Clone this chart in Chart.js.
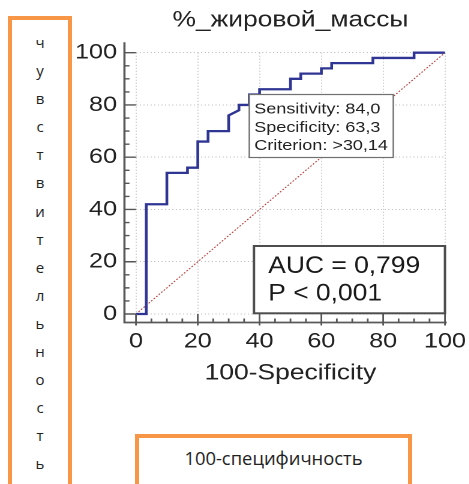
<!DOCTYPE html>
<html>
<head>
<meta charset="utf-8">
<script src="https://cdn.jsdelivr.net/npm/chart.js@4.4.1/dist/chart.umd.min.js"></script>
<style>
  html, body { margin: 0; padding: 0; background: #fff; }
  body { width: 469px; height: 484px; position: relative; overflow: hidden; }
  /* the source figure is stretched sideways, so the plot is drawn narrow and scaled */
  #plotWrap { position: absolute; left: 0; top: 0; width: 391px; height: 484px; transform: scaleX(1.2); transform-origin: 0 0; }
  .frame { position: absolute; border: 4px solid #f79646; background: #fff; box-sizing: border-box; }
  #sideFrame { left: 8px; top: 16px; width: 64px; height: 500px; }
  #bottomFrame { left: 135px; top: 434px; width: 277px; height: 80px; }
  #sideText { position: absolute; left: 8px; width: 64px; top: 28px; text-align: center; font: 15px "Open Sans", sans-serif; line-height: 28.1px; color: #222; }
  #bottomText { position: absolute; left: 135px; width: 277px; top: 446px; text-align: center; font: 18.4px "Open Sans", sans-serif; line-height: 23px; color: #222; }
</style>
</head>
<body>
<div id="plotWrap"><canvas id="rocChart" width="391" height="484"></canvas></div>
<div class="frame" id="sideFrame"></div>
<div id="sideText"></div>
<div class="frame" id="bottomFrame"></div>
<div id="bottomText"></div>
<script>
  var chartTitle = '%_жировой_массы';
  var xTitle = '100-Specificity';
  var sideLabel = 'чувствительность';
  var bottomLabel = '100-специфичность';

  // ROC curve vertices: 100-specificity (x) and sensitivity (y)
  var fpr = [0, 3.33, 3.33, 10, 10, 16.67, 16.67, 20, 20, 23.33, 23.33, 30, 30, 33.33, 33.33, 36.67,
    36.67, 40, 40, 50, 50, 53.33, 53.33, 60, 60, 63.33, 63.33, 76.67, 76.67, 90, 90, 100];
  var tpr = [0, 0, 42, 42, 54, 54, 56, 56, 66, 66, 70, 70, 76, 78, 80, 80,
    84, 84, 86, 86, 90, 90, 92, 92, 94, 94, 96, 96, 98, 98, 100, 100];
  var refX = [0, 100];
  var refY = [0, 100];
  var tickLabels = [0, 20, 40, 60, 80, 100];

  var criterionFpr = 36.67;
  var criterionTpr = 84;
  var infoLines = ['Sensitivity: 84,0', 'Specificity: 63,3', 'Criterion: >30,14'];
  var aucLines = ['AUC = 0,799', 'P < 0,001'];

  var FONT = "'Liberation Sans', Arial, sans-serif";
  var SX = 1.2;

  document.getElementById('sideText').innerHTML = sideLabel.split('').join('<br>');
  document.getElementById('bottomText').textContent = bottomLabel;

  function points(xs, ys) {
    return xs.map(function (x, i) { return { x: x, y: ys[i] }; });
  }

  var axesAndBoxes = {
    id: 'axesAndBoxes',
    afterDatasetsDraw: function (chart) {
      var ctx = chart.ctx;
      var xs = chart.scales.x;
      var ys = chart.scales.y;
      var area = chart.chartArea;
      var axisX = area.left - 9.6;
      var axisY = area.bottom + 8.5;
      var minMax = [tickLabels[0], tickLabels[tickLabels.length - 1]];

      ctx.save();
      // detached axis lines
      ctx.strokeStyle = '#5a5a5a';
      ctx.lineWidth = 1.8;
      ctx.beginPath();
      ctx.moveTo(axisX, ys.getPixelForValue(minMax[1]) - 10.5);
      ctx.lineTo(axisX, axisY);
      ctx.lineTo(xs.getPixelForValue(minMax[1]) + 1.5, axisY);
      ctx.stroke();

      // major and minor ticks pointing in toward the plot
      ctx.strokeStyle = '#555';
      ctx.lineWidth = 1.4;
      ctx.beginPath();
      for (var v = minMax[0]; v <= minMax[1]; v += 5) {
        var major = tickLabels.indexOf(v) >= 0;
        var py = ys.getPixelForValue(v);
        ctx.moveTo(axisX, py);
        ctx.lineTo(major ? area.left : axisX + 4.2, py);
        var px = xs.getPixelForValue(v);
        ctx.moveTo(px, major ? axisY + 3 : axisY);
        ctx.lineTo(px, major ? area.bottom : axisY - 4);
      }
      ctx.stroke();

      // criterion info box, anchored at the operating point
      var bx = xs.getPixelForValue(criterionFpr);
      var by = ys.getPixelForValue(criterionTpr);
      ctx.fillStyle = '#fff';
      ctx.fillRect(bx, by, 120, 63);
      ctx.strokeStyle = '#707070';
      ctx.lineWidth = 1.2;
      ctx.strokeRect(bx, by, 120, 63);
      ctx.fillStyle = '#222';
      ctx.font = '15px ' + FONT;
      ctx.textBaseline = 'alphabetic';
      ctx.textAlign = 'left';
      infoLines.forEach(function (t, i) {
        ctx.fillText(t, bx + 4.2, by + 19 + i * 18.35);
      });

      // AUC box in the lower right corner
      var right = xs.getPixelForValue(minMax[1]);
      var bottom = ys.getPixelForValue(minMax[0]) - 0.7;
      var w = 191 / SX, h = 67.3;
      ctx.fillStyle = '#fff';
      ctx.fillRect(right - w, bottom - h, w, h);
      ctx.strokeStyle = '#4d4d4d';
      ctx.lineWidth = 2;
      ctx.strokeRect(right - w, bottom - h, w, h);
      ctx.translate(right - w + 14.3 / SX, bottom - h + 27);
      ctx.scale(1.1 / SX, 1);
      ctx.fillStyle = '#1a1a1a';
      ctx.font = '24px ' + FONT;
      ctx.fillText(aucLines[0], 0, 0);
      ctx.fillText(aucLines[1], 0, 27.7);
      ctx.restore();
    }
  };

  var axisTicks = {
    color: '#222',
    font: { family: FONT, size: 21 },
    stepSize: 20,
    maxRotation: 0
  };

  new Chart(document.getElementById('rocChart'), {
    type: 'line',
    data: {
      datasets: [{
        data: points(fpr, tpr),
        borderColor: '#2f3593',
        borderWidth: 2.3,
        pointRadius: 0,
        tension: 0,
        clip: false
      }, {
        data: points(refX, refY),
        borderColor: '#b8403c',
        borderWidth: 1,
        borderDash: [1.5, 1.5],
        pointRadius: 0,
        tension: 0
      }]
    },
    options: {
      responsive: false,
      animation: false,
      devicePixelRatio: 2,
      layout: { padding: { left: 0, right: 20.2, top: 0, bottom: 97.4 } },
      plugins: {
        legend: { display: false },
        tooltip: { enabled: false },
        title: {
          display: true,
          text: chartTitle,
          fullSize: false,
          color: '#222',
          font: { family: FONT, size: 22, weight: 'normal' },
          padding: { top: 7, bottom: 19.3 }
        }
      },
      scales: {
        x: {
          type: 'linear',
          min: 0,
          max: 100,
          ticks: Object.assign({ padding: 0 }, axisTicks),
          // invisible tick marks only push the labels down; real ticks come from the plugin
          grid: { color: '#c4c4c4', lineWidth: 1, drawTicks: true, tickLength: 15, tickColor: 'rgba(0,0,0,0)' },
          border: { display: false, dash: [1, 2] },
          title: { display: true, text: xTitle, color: '#222', font: { family: FONT, size: 22 }, padding: 0 },
          afterFit: function (s) { s.height = 72.6; }
        },
        y: {
          min: 0,
          max: 100,
          ticks: Object.assign({ padding: 15.8 }, axisTicks),
          grid: { color: '#c4c4c4', lineWidth: 1, drawTicks: false },
          border: { display: false, dash: [1, 2] },
          afterFit: function (s) { s.width = 113.3; }
        }
      }
    },
    plugins: [axesAndBoxes]
  });
</script>
</body>
</html>
